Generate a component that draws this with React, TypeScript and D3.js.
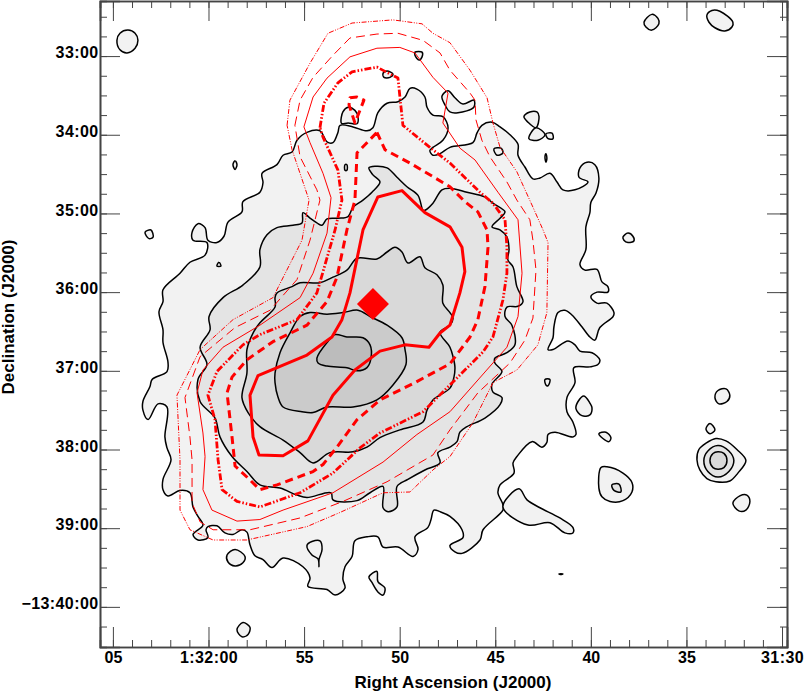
import React, { useEffect, useRef } from "react";
import * as d3 from "d3";

type Pt = [number, number];

// [RA seconds from 1:32:00 (east positive), declination minutes past -13:00]
const optical1: Pt[] = [
  [-4.37,34.22],[-4.63,34.07],[-5.15,33.97],[-5.83,33.95],[-6.2,34.09],[-6.51,34.1],[-6.77,33.97],[-6.88,33.88],[-7.56,33.9],[-8.29,33.95],
  [-8.6,33.91],[-8.86,33.72],[-9.34,33.6],[-9.91,33.58],[-10.28,33.52],[-10.54,33.41],[-10.9,33.42],[-11.32,33.52],[-11.43,33.65],[-11.74,33.75],
  [-12.26,33.77],[-12.53,33.91],[-12.26,34.07],[-11.74,34.16],[-11.58,34.2],[-11.74,34.26],[-12.11,34.24],[-12.63,34.16],[-13.83,34.1],[-14.04,33.98],
  [-14.3,33.88],[-14.83,33.84],[-15.25,33.9],[-15.77,34.0],[-16.19,34.12],[-16.19,34.26],[-16.55,34.41],[-16.97,34.56],[-17.34,34.55],[-17.86,34.49],
  [-18.23,34.6],[-18.54,34.7],[-19.17,34.7],[-19.85,34.6],[-19.38,34.54],[-19.43,34.42],[-19.8,34.35],[-20.21,34.38],[-20.42,34.55],[-20.27,34.74],
  [-20.0,34.86],[-19.95,34.99],[-19.74,35.17],[-19.74,35.46],[-19.43,35.65],[-19.69,35.72],[-20.32,35.71],[-20.58,35.87],[-20.89,35.93],[-20.89,36.0],
  [-20.32,36.0],[-20.0,36.06],[-20.32,36.14],[-20.84,36.14],[-21.21,36.26],[-21.16,36.31],[-20.47,36.45],[-20.21,36.61],[-19.95,36.57],[-19.53,36.44],
  [-19.01,36.29],[-18.64,36.23],[-18.28,36.26],[-18.07,36.44],[-18.02,36.58],[-17.76,36.73],[-18.02,36.73],[-18.8,36.62],[-19.17,36.67],[-19.43,36.75],
  [-20.06,36.77],[-20.47,36.86],[-20.37,36.92],[-19.95,36.95],[-19.11,36.96],[-19.17,37.15],[-18.75,37.34],[-18.75,37.52],[-19.06,37.65],[-19.22,37.81],
  [-19.06,37.84],[-18.12,37.78],[-17.76,37.81],[-17.7,37.91],[-17.44,37.97],[-16.92,37.9],[-16.13,38.09],[-15.93,38.17],[-15.98,38.3],[-15.25,38.45],
  [-15.14,38.55],[-15.4,38.7],[-15.4,38.77],[-14.36,39.02],[-14.2,39.15],[-13.26,39.32],[-12.89,39.3],[-12.63,39.22],[-13.31,39.12],[-13.26,39.02],
  [-12.63,38.85],[-12.11,38.79],[-11.79,38.77],[-11.64,38.89],[-11.48,38.99],[-10.8,39.11],[-10.96,39.27],[-10.7,39.36],[-9.91,39.24],[-9.13,39.24],
  [-8.86,39.11],[-8.29,39.11],[-7.66,39.16],[-7.51,39.36],[-7.14,39.49],[-7.03,39.65],[-7.14,39.76],[-6.62,39.85],[-6.2,39.78],[-5.2,39.74],
  [-5.31,39.63],[-4.94,39.49],[-3.9,39.38],[-3.32,39.5],[-2.85,39.4],[-2.43,39.35],[-2.17,39.21],[-2.01,39.05],[-1.75,39.02],[-1.28,39.08],
  [-0.86,39.06],[-0.44,38.97],[0.03,38.98],[0.13,39.02],[0.03,39.12],[0.55,39.15],[0.81,39.08],[0.29,38.96],[0.55,38.85],[0.81,38.73],
  [0.97,38.55],[1.49,38.52],[2.12,38.59],[2.38,38.51],[2.38,38.38],[1.96,38.13],[2.17,37.98],[2.28,37.84],[2.17,37.46],[2.64,37.42],
  [3.16,37.62],[3.43,37.5],[3.43,37.39],[3.06,37.2],[2.95,37.11],[2.17,37.01],[2.12,36.89],[2.38,36.64],[2.38,36.48],[2.59,36.25],
  [2.38,36.12],[2.38,35.97],[1.49,35.76],[0.97,35.62],[0.18,35.53],[0.08,35.37],[0.81,35.34],[0.86,35.24],[0.55,35.13],[0.18,35.18],
  [0.03,35.34],[-0.44,35.37],[-0.81,35.29],[-1.02,35.11],[-1.75,34.98],[-1.8,34.85],[-2.69,34.73],[-2.85,34.61],[-2.8,34.49],[-3.58,34.38],[-3.9,34.26],
];
const optical2: Pt[] = [
  [-3.06,35.27],[-3.58,35.18],[-4.42,35.15],[-4.89,35.12],[-4.94,34.99],[-5.31,35.06],[-5.67,35.12],[-5.94,35.15],[-6.2,35.07],[-6.77,35.06],
  [-7.3,35.04],[-7.56,34.92],[-8.08,34.83],[-8.55,34.73],[-8.97,34.6],[-8.6,34.51],[-8.39,34.42],[-8.71,34.4],[-9.34,34.42],[-9.86,34.54],
  [-10.38,34.66],[-10.96,34.77],[-11.22,34.96],[-11.32,34.96],[-11.74,34.87],[-12.21,34.7],[-12.63,34.68],[-13.52,34.73],[-14.46,34.79],[-14.88,34.87],
  [-15.51,34.98],[-15.25,35.06],[-14.83,35.17],[-15.25,35.21],[-15.61,35.3],[-15.72,35.46],[-15.66,35.59],[-15.93,35.68],[-16.13,35.93],[-16.45,36.12],
  [-16.19,36.18],[-15.61,36.19],[-15.51,36.31],[-15.87,36.42],[-16.03,36.67],[-15.61,36.77],[-14.98,36.84],[-14.98,36.9],[-15.35,37.01],[-14.83,37.17],
  [-14.88,37.27],[-15.35,37.34],[-15.25,37.43],[-14.46,37.6],[-13.52,37.71],[-13.15,37.78],[-13.0,37.9],[-12.63,37.97],[-12.0,38.04],[-12.11,38.17],
  [-11.32,38.26],[-10.43,38.38],[-9.86,38.47],[-9.86,38.73],[-9.39,38.79],[-9.13,38.74],[-9.13,38.47],[-8.45,38.55],[-7.77,38.65],[-6.51,38.64],
  [-6.41,38.55],[-5.15,38.61],[-4.63,38.58],[-3.74,38.49],[-2.69,38.45],[-2.01,38.28],[-1.23,38.09],[-0.6,37.84],[-0.34,37.6],[0.44,37.39],
  [0.55,37.11],[0.08,36.92],[0.44,36.7],[-0.08,36.48],[-0.03,36.31],[-0.76,36.07],[-1.8,35.91],[-2.69,35.68],[-2.69,35.46],
];
const optical3: Pt[] = [
  [-3.48,36.07],[-3.58,36.01],[-4.37,35.93],[-4.79,35.88],[-5.83,35.88],[-6.51,35.81],[-7.24,35.72],[-7.77,35.57],[-8.81,35.58],[-9.34,35.49],
  [-9.75,35.43],[-10.12,35.49],[-10.43,35.63],[-11.06,35.55],[-11.32,35.69],[-11.95,35.78],[-12.26,35.91],[-12.26,36.14],[-12.63,36.26],[-12.79,36.33],
  [-12.63,36.42],[-12.11,36.51],[-12.63,36.7],[-12.79,36.82],[-12.89,36.95],[-12.84,37.08],[-12.63,37.22],[-11.74,37.37],[-11.43,37.5],[-11.22,37.65],
  [-10.01,37.75],[-8.97,37.85],[-8.29,37.97],[-7.56,38.03],[-6.35,38.04],[-5.47,38.17],[-4.79,38.04],[-3.9,37.88],[-2.69,37.71],[-2.07,37.53],
  [-1.75,37.34],[-2.01,37.03],[-2.01,36.73],[-2.33,36.52],[-2.69,36.39],[-3.48,36.19],
];
const optical4: Pt[] = [
  [-3.48,37.03],[-3.74,36.77],[-4.26,36.52],[-4.79,36.31],[-5.31,36.26],[-6.2,36.28],[-7.03,36.26],[-7.82,36.23],[-8.45,36.31],[-9.34,36.42],
  [-10.12,36.58],[-10.28,36.73],[-10.33,36.92],[-9.65,37.18],[-8.81,37.37],[-7.56,37.46],[-6.2,37.46],[-5.47,37.53],[-4.89,37.52],[-3.9,37.46],[-3.63,37.33],[-3.48,37.15],
];
const optical5: Pt[] = [
  [-5.67,36.84],[-6.2,36.64],[-6.62,36.54],[-7.24,36.57],[-8.08,36.58],[-8.45,36.67],[-8.5,36.84],[-8.29,36.96],[-7.77,37.0],[-7.24,36.96],[-6.2,36.94],[-5.73,36.9],
];

// small detached islands of the faintest optical level
const islands1: Pt[][] = [
  [[4.79,32.8],[4.63,32.71],[4.21,32.67],[3.84,32.71],[3.69,32.8],[3.84,32.9],[4.26,32.96],[4.63,32.92]],
  [[-10.8,32.95],[-11.17,32.95],[-11.17,33.01],[-11.01,33.05],[-10.8,32.99]],
  [[-9.13,33.22],[-9.34,33.19],[-9.65,33.23],[-9.49,33.27],[-9.18,33.27]],
  [[-6.93,33.84],[-7.03,33.71],[-7.3,33.65],[-7.66,33.69],[-7.82,33.77],[-7.77,33.86],[-7.3,33.85],[-6.98,33.86]],
  [[-1.28,34.38],[-1.39,34.33],[-1.49,34.38],[-1.39,34.44]],
  [[3.32,35.24],[3.01,35.21],[2.9,35.3],[3.11,35.32]],
  [[-0.44,35.67],[-0.55,35.62],[-0.65,35.67]],
  [[-7.14,34.38],[-7.24,34.38],[-7.24,34.45],[-7.14,34.45]],
  [[-14.93,34.18],[-15.3,34.17],[-15.4,34.23],[-15.09,34.26]],
  [[-12.21,33.51],[-12.53,33.44],[-12.89,33.53],[-13.31,33.61],[-13.88,33.56],[-13.88,33.65],[-13.05,33.72],[-12.63,33.71],[-12.37,33.62]],
  [[-16.5,33.77],[-16.81,33.71],[-17.18,33.71],[-17.29,33.77],[-17.13,33.91],[-16.71,33.84]],
  [[-17.13,33.91],[-17.6,34.0],[-17.23,34.07],[-16.76,34.05]],
  [[-17.65,33.99],[-17.97,33.98],[-18.02,34.05],[-17.76,34.05]],
  [[-17.6,34.28],[-17.65,34.24],[-17.7,34.3],[-17.65,34.35]],
  [[-22.78,32.57],[-23.19,32.47],[-23.51,32.52],[-23.56,32.59],[-23.19,32.67],[-22.88,32.63]],
  [[-26.07,32.48],[-26.33,32.42],[-26.75,32.43],[-27.43,32.57],[-27.38,32.63],[-27.01,32.68],[-26.49,32.64],[-26.18,32.57]],
  [[-21.68,35.3],[-21.94,35.25],[-22.2,35.29],[-22.25,35.35],[-21.94,35.37],[-21.73,35.34]],
  [[-17.6,37.11],[-17.86,37.11],[-17.76,37.19],[-17.65,37.18]],
  [[-19.22,37.48],[-19.33,37.39],[-19.64,37.32],[-19.95,37.41],[-20.06,37.47],[-19.95,37.56],[-19.53,37.57]],
  [[-20.42,37.8],[-20.79,37.78],[-21.05,37.85],[-20.95,37.9],[-20.63,37.86]],
  [[-26.49,37.34],[-26.65,37.25],[-27.07,37.23],[-27.27,37.31],[-27.12,37.39],[-26.7,37.42]],
  [[-26.02,37.74],[-26.23,37.67],[-26.49,37.75],[-26.23,37.8]],
  [[-25.55,38.13],[-25.65,38.0],[-26.02,37.92],[-26.54,37.86],[-27.07,37.89],[-27.64,38.0],[-28.11,38.14],[-27.69,38.3],[-27.27,38.4],[-26.54,38.41],[-26.07,38.37],[-25.7,38.26]],
  [[-27.43,38.68],[-27.79,38.59],[-28.16,38.58],[-28.32,38.66],[-28.11,38.77],[-27.74,38.78]],
  [[-20.53,38.23],[-20.84,38.22],[-21.68,38.3],[-22.15,38.42],[-22.15,38.54],[-21.68,38.65],[-21.0,38.66],[-20.58,38.6],[-20.42,38.49]],
  [[-15.4,38.73],[-16.24,38.5],[-16.66,38.64],[-17.34,38.74],[-18.38,38.87],[-19.06,38.99],[-19.06,39.06],[-18.64,39.06],[-17.86,38.93],[-16.71,38.96]],
  [[-18.33,39.58],[-18.54,39.58],[-18.43,39.59]],
  [[-0.97,39.34],[-1.39,39.27],[-1.91,39.36],[-1.8,39.44],[-1.39,39.48],[-1.02,39.43]],
  [[-5.15,39.22],[-5.41,39.17],[-5.83,39.16],[-5.94,39.27],[-5.78,39.4],[-5.78,39.49],[-5.73,39.39],[-5.41,39.34]],
  [[-8.39,39.62],[-8.81,39.55],[-8.86,39.68],[-9.23,39.76],[-9.13,39.85],[-8.86,39.81],[-8.55,39.69]],
  [[-1.49,40.29],[-1.8,40.2],[-2.17,40.26],[-2.07,40.35],[-1.75,40.38]],
];
const islands2: Pt[][] = [
  [[-25.91,38.14],[-26.12,38.02],[-26.65,37.95],[-27.22,38.02],[-27.48,38.14],[-27.22,38.28],[-26.65,38.35],[-26.12,38.28]],
  [[-21.1,38.45],[-21.47,38.44],[-21.57,38.54],[-21.21,38.52]],
];
const islands3: Pt[][] = [
  [[-26.23,38.14],[-26.39,38.05],[-26.65,38.03],[-26.96,38.05],[-27.12,38.14],[-26.96,38.23],[-26.65,38.25],[-26.39,38.23]],
];

// red radio contours, faintest first
const radio1: Pt[] = [
  [-4.11,33.88],[-4.26,33.56],[-5.31,33.09],[-6.25,32.71],[-7.51,32.58],[-9.65,32.54],[-11.17,32.59],[-11.74,32.71],[-12.63,32.83],[-13.68,33.18],
  [-14.57,33.53],[-14.88,33.85],[-15.25,34.16],[-16.13,34.47],[-16.97,34.92],[-17.5,35.21],[-17.76,35.37],[-17.7,36.26],[-17.23,36.67],[-16.13,36.99],
  [-14.88,37.15],[-13.83,37.66],[-12.63,38.09],[-11.74,38.26],[-10.54,38.54],[-9.13,38.55],[-6.88,38.8],[-5.15,38.98],[-2.01,39.15],[-0.24,39.15],
  [0.97,39.02],[1.49,38.77],[1.49,38.13],[1.65,37.31],[0.44,36.73],[-1.28,36.35],[-3.37,36.07],[-4.89,35.34],[-5.26,34.83],[-4.37,34.19],
];
const radio2: Pt[] = [
  [-4.52,33.88],[-4.79,33.56],[-5.47,33.27],[-6.51,32.99],[-7.4,32.77],[-8.81,32.72],[-9.91,32.71],[-11.22,32.8],[-12.11,32.96],[-12.63,33.18],
  [-13.68,33.47],[-13.94,33.56],[-13.99,33.81],[-14.3,34.07],[-14.72,34.28],[-15.61,34.6],[-16.13,34.83],[-16.81,35.08],[-16.97,35.34],[-17.13,35.72],
  [-16.97,36.33],[-16.55,36.61],[-15.77,36.9],[-14.09,37.28],[-12.63,37.75],[-11.74,38.07],[-9.34,38.41],[-7.03,38.66],[-4.79,38.87],[-2.17,39.02],
  [-0.24,39.02],[0.44,38.92],[0.86,38.68],[0.86,38.13],[0.97,37.84],[1.23,37.34],[0.44,36.82],[-1.39,36.45],[-3.22,36.23],[-4.63,35.84],
  [-5.31,35.34],[-5.83,34.83],[-5.67,34.7],[-4.79,34.28],
];
const radio3: Pt[] = [
  [-4.99,33.9],[-5.47,33.52],[-6.2,33.28],[-7.4,33.01],[-8.81,32.9],[-10.01,32.89],[-10.8,32.96],[-11.74,33.27],[-12.53,33.47],[-12.26,33.85],
  [-13.15,34.17],[-13.94,34.32],[-15.14,34.73],[-16.19,35.08],[-16.4,35.76],[-16.19,36.31],[-15.61,36.7],[-14.88,36.9],[-12.63,37.52],[-10.9,37.81],
  [-9.13,38.16],[-6.51,38.55],[-3.9,38.77],[-2.69,38.89],[-1.49,38.91],[-0.18,38.77],[0.29,38.51],[0.18,38.09],[0.29,37.79],[0.6,37.28],
  [0.29,36.99],[-0.76,36.7],[-2.69,36.42],[-4.79,36.07],[-5.47,35.76],[-6.2,35.25],[-6.41,34.8],[-5.99,34.49],[-5.31,34.1],
];
const radio4: Pt[] = [
  [-5.83,33.91],[-6.04,33.6],[-6.77,33.34],[-7.51,33.2],[-8.81,33.14],[-9.91,33.28],[-10.07,33.65],[-10.17,33.88],[-11.58,34.16],[-12.63,34.36],
  [-14.2,34.73],[-14.88,34.87],[-15.51,35.08],[-15.61,35.43],[-15.61,35.76],[-15.4,36.1],[-14.88,36.57],[-14.36,36.76],[-12.63,37.18],[-11.22,37.52],
  [-8.97,37.79],[-7.92,37.98],[-6.51,38.3],[-4.79,38.55],[-2.69,38.73],[-1.49,38.66],[-0.71,38.51],[-0.5,38.13],[-0.34,37.62],[0.03,37.31],
  [-0.44,37.01],[-1.8,36.67],[-2.69,36.54],[-4.63,36.35],[-5.67,36.01],[-6.62,35.21],[-6.98,34.83],[-6.77,34.45],[-5.99,34.03],
];
const radio5: Pt[] = [
  [-8.81,33.97],[-9.23,34.19],[-10.54,34.36],[-12.63,34.66],[-13.41,34.85],[-14.09,34.98],[-14.57,35.21],[-14.62,35.43],[-14.46,35.93],[-14.09,36.35],
  [-13.68,36.57],[-12.63,36.91],[-10.8,37.15],[-8.97,37.37],[-7.77,37.62],[-6.72,37.97],[-5.99,38.19],[-5.47,38.28],[-3.58,38.45],[-2.69,38.51],
  [-2.01,38.35],[-1.39,38.21],[-1.23,37.84],[-0.97,37.28],[-1.23,37.08],[-2.01,36.86],[-3.37,36.63],[-5.15,36.42],[-6.2,36.12],[-6.72,35.81],
  [-7.24,35.21],[-7.66,34.83],[-7.77,34.23],
];
const radio5Island: Pt[] = [[-7.66,33.85],[-7.35,33.62],[-7.4,33.53],[-7.77,33.52],[-8.13,33.56],[-7.92,33.69]];
const radio6: Pt[] = [
  [-8.86,34.79],[-10.12,34.71],[-11.32,34.99],[-12.63,35.17],[-13.26,35.43],[-13.41,35.74],[-13.15,36.01],[-12.63,36.42],[-12.11,36.52],[-11.53,36.7],
  [-10.28,36.67],[-8.97,36.75],[-7.66,36.99],[-6.51,37.31],[-5.2,37.89],[-3.9,38.08],[-2.64,38.07],[-2.33,37.84],[-2.17,37.31],[-2.59,37.06],
  [-5.15,36.8],[-6.46,36.57],[-6.98,36.35],[-7.4,36.01],[-8.08,35.21],
];
const nucleus: Pt = [-8.6, 36.15];

const raMajor = [5, 0, -5, -10, -15, -20, -25, -30];
const raLabels = ["05", "1:32:00", "55", "50", "45", "40", "35", "31:30"];
const decMajor = [33, 34, 35, 36, 37, 38, 39, 40];
const decLabels = ["33:00", "34:00", "35:00", "36:00", "37:00", "38:00", "39:00", "\u221213:40:00"];
const raMinor = d3.range(5, -30.5, -1);
const decMinor = d3.range(32.5, 40.5, 0.25);

const levelFills = ["#f2f2f2", "#e4e4e4", "#d9d9d9", "#cbcbcb", "#bcbcbc"];

const W = 805;
const H = 693;
const left = 100;
const right = 787;
const top = 1;
const bottom = 647;
const FONT = "'Liberation Sans', Arial, sans-serif";

const x = d3.scaleLinear().domain([5.675, -30.26]).range([left, right]);
const y = d3.scaleLinear().domain([32.3, 40.51]).range([top, bottom]);

const smooth = d3.line<Pt>().x((d) => x(d[0])).y((d) => y(d[1])).curve(d3.curveCatmullRomClosed.alpha(0.5));
const poly = d3.line<Pt>().x((d) => x(d[0])).y((d) => y(d[1])).curve(d3.curveLinearClosed);

const DASHDOT = "7 2 1.5 2 1.5 2";

const App = () => {
  const axesRef = useRef<SVGGElement>(null);

  useEffect(() => {
    const g = d3.select(axesRef.current);
    g.selectAll("*").remove();

    const style = (sel: any, labels: boolean) => {
      sel.selectAll(".tick line").attr("stroke", "#444").attr("stroke-width", 1);
      sel.select(".domain").attr("stroke", "#444").attr("stroke-width", 1.6);
      sel
        .selectAll("text")
        .attr("font-family", FONT)
        .attr("font-size", 16)
        .attr("font-weight", "bold")
        .attr("fill", "#000")
        .attr("letter-spacing", (d: any, i: number, n: any) =>
          labels && n[i].textContent.includes(":") ? 0.4 : 0
        );
    };

    const raFmt = (d: any) => raLabels[raMajor.indexOf(d)];
    const decFmt = (d: any) => decLabels[decMajor.indexOf(d)];

    // minor ticks, all four sides
    const sides: [any, number, number, number][] = [
      [d3.axisBottom(x).tickValues(raMinor), 0, bottom, -7],
      [d3.axisTop(x).tickValues(raMinor), 0, top, -7],
      [d3.axisLeft(y).tickValues(decMinor), left, 0, -7],
      [d3.axisRight(y).tickValues(decMinor), right, 0, -7],
    ];
    sides.forEach(([axis, tx, ty, size]) => {
      const a = g.append("g").attr("transform", `translate(${tx},${ty})`);
      a.call(axis.tickSize(size).tickFormat(() => ""));
      style(a, false);
    });

    // major ticks
    const bottomAxis = g.append("g").attr("transform", `translate(0,${bottom})`);
    bottomAxis.call(d3.axisBottom(x).tickValues(raMajor).tickSize(-20).tickPadding(4.5).tickFormat(raFmt) as any);
    style(bottomAxis, true);

    const topAxis = g.append("g").attr("transform", `translate(0,${top})`);
    topAxis.call(d3.axisTop(x).tickValues(raMajor).tickSize(-20).tickFormat(() => "") as any);
    style(topAxis, false);

    const leftAxis = g.append("g").attr("transform", `translate(${left},0)`);
    leftAxis.call(d3.axisLeft(y).tickValues(decMajor).tickSize(-20).tickPadding(1.5).tickFormat(decFmt) as any);
    style(leftAxis, true);
    leftAxis.selectAll("text").attr("dy", "0.1em");

    const rightAxis = g.append("g").attr("transform", `translate(${right},0)`);
    rightAxis.call(d3.axisRight(y).tickValues(decMajor).tickSize(-20).tickFormat(() => "") as any);
    style(rightAxis, false);
  }, []);

  const diamond = d3.symbol().type(d3.symbolSquare).size(512)();

  const black = (pts: Pt[], level: number, key: string) => (
    <path key={key} d={smooth(pts) ?? ""} fill={levelFills[level]} stroke="#000" strokeWidth={1.5} strokeLinejoin="round" />
  );

  return (
    <svg width={W} height={H} style={{ position: "absolute", left: 0, top: 0, background: "#fff" }}>
      {black(optical1, 0, "o1")}
      {islands1.map((d, i) => black(d, 0, `i1-${i}`))}
      {black(optical2, 1, "o2")}
      {islands2.map((d, i) => black(d, 1, `i2-${i}`))}
      {black(optical3, 2, "o3")}
      {islands3.map((d, i) => black(d, 2, `i3-${i}`))}
      {black(optical4, 3, "o4")}
      {black(optical5, 4, "o5")}

      <g fill="none" stroke="#ff0000" strokeLinejoin="round">
        <path d={poly(radio1) ?? ""} strokeWidth={1} strokeDasharray="5 1.5 1 1.5 1 1.5" />
        <path d={poly(radio2) ?? ""} strokeWidth={1} strokeDasharray="9 5" />
        <path d={poly(radio3) ?? ""} strokeWidth={1} />
        <path d={poly(radio4) ?? ""} strokeWidth={2.8} strokeDasharray={DASHDOT} />
        <path d={poly(radio5) ?? ""} strokeWidth={3} strokeDasharray="8 5" />
        <path d={poly(radio5Island) ?? ""} strokeWidth={3} strokeDasharray="8 5" />
        <path d={poly(radio6) ?? ""} strokeWidth={3} />
      </g>
      <path d={diamond ?? ""} fill="#ff0000" transform={`translate(${x(nucleus[0])},${y(nucleus[1])}) rotate(45)`} />

      <g ref={axesRef} />

      <text x={453} y={688} textAnchor="middle" fontFamily={FONT} fontSize={17} fontWeight="bold">
        Right Ascension (J2000)
      </text>
      <text
        transform="translate(14,317) rotate(-90)"
        textAnchor="middle"
        fontFamily={FONT}
        fontSize={17}
        fontWeight="bold"
      >
        Declination (J2000)
      </text>
    </svg>
  );
};

export default App;
